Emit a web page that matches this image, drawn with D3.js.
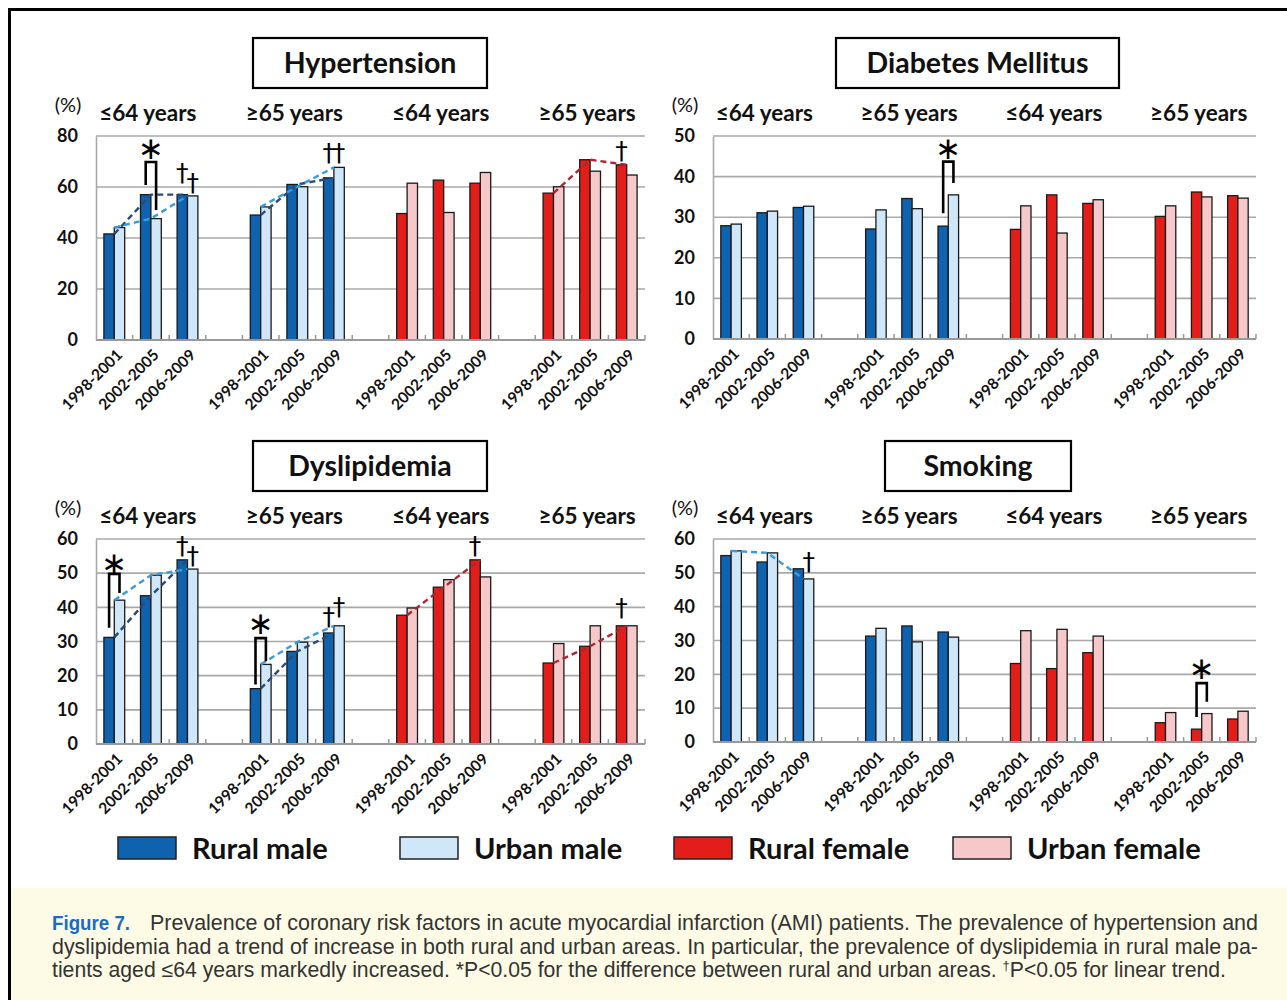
<!DOCTYPE html>
<html>
<head>
    <title>Figure 7</title>
    <script src="https://d3js.org/d3.v7.min.js"></script>
    <style>
        body { margin: 0; background: #fff; }
        svg { display: block; }
        .chart-text { font-family: Lato, "Open Sans", sans-serif; fill: #111; }
        .caption { font-family: "Liberation Sans", Arial, sans-serif; fill: #333; font-size: 21.2px; }
    </style>
</head>
<body>
<svg id="fig" width="1287" height="1000"></svg>
<script>
    // ---- data ----
    const periods = ["1998-2001", "2002-2005", "2006-2009"];
    const ageGroups = ["≤64 years", "≥65 years", "≤64 years", "≥65 years"];
    const seriesNames = ["Rural male", "Urban male", "Rural female", "Urban female"];
    const seriesColors = ["#0f62ae", "#cfe7f8", "#e31e1a", "#f6c8ca"];

    // rows: male ≤64, male ≥65, female ≤64, female ≥65 ; cols: periods
    const hypertensionRural = [[41.6, 57.0, 57.0], [49.0, 61.0, 63.6], [49.6, 62.7, 61.5], [57.6, 70.7, 68.7]];
    const hypertensionUrban = [[44.1, 47.6, 56.5], [52.2, 60.1, 67.7], [61.5, 50.0, 65.7], [60.1, 66.2, 64.7]];
    const diabetesRural = [[27.9, 31.1, 32.4], [27.1, 34.6, 27.8], [27.0, 35.5, 33.4], [30.2, 36.2, 35.3]];
    const diabetesUrban = [[28.3, 31.5, 32.7], [31.8, 32.1, 35.5], [32.8, 26.1, 34.3], [32.8, 35.0, 34.7]];
    const dyslipidemiaRural = [[31.2, 43.4, 53.9], [16.2, 27.1, 32.5], [37.7, 45.9, 53.9], [23.7, 28.6, 34.6]];
    const dyslipidemiaUrban = [[42.1, 49.4, 51.2], [23.3, 29.8, 34.6], [39.8, 48.1, 48.9], [29.4, 34.6, 34.6]];
    const smokingRural = [[55.1, 53.2, 51.2], [31.3, 34.3, 32.5], [23.2, 21.7, 26.4], [5.7, 3.8, 6.8]];
    const smokingUrban = [[56.5, 55.9, 48.2], [33.6, 29.6, 31.0], [32.9, 33.3, 31.3], [8.7, 8.4, 9.1]];

    // trend lines: [group, "rural"/"urban"]
    const hypertensionTrends = [[0, "rural"], [0, "urban"], [1, "rural"], [1, "urban"], [3, "rural"]];
    const diabetesTrends = [];
    const dyslipidemiaTrends = [[0, "rural"], [0, "urban"], [1, "rural"], [1, "urban"], [2, "rural"], [3, "rural"]];
    const smokingTrends = [[0, "urban"]];

    // daggers (linear trend): [group, period, bar, value at symbol centre]
    const hypertensionDaggers = [[0, 2, "rural", 65.8], [0, 2, "urban", 62.0], [1, 2, "rural", 73.7], [1, 2, "urban", 73.7], [3, 2, "rural", 74.5]];
    const diabetesDaggers = [];
    const dyslipidemiaDaggers = [[0, 2, "rural", 58.3], [0, 2, "urban", 55.4], [1, 2, "rural", 37.5], [1, 2, "urban", 40.3], [2, 2, "rural", 58.3], [3, 2, "rural", 40.0]];
    const smokingDaggers = [[0, 2, "urban", 53.5]];

    // rural vs urban brackets: [group, period, star, bracket top, left end, right end]
    const hypertensionStars = [[0, 1, 75.3, 69.8, 60.8, 51.0]];
    const diabetesStars = [[1, 2, 47.0, 43.7, 31.0, 38.4]];
    const dyslipidemiaStars = [[0, 0, 53.0, 49.8, 34.0, 44.2], [1, 0, 35.6, 31.0, 17.4, 24.2]];
    const smokingStars = [[3, 1, 21.8, 17.4, 7.4, 11.9]];

    const panels = [
        { title: "Hypertension", rural: hypertensionRural, urban: hypertensionUrban, trends: hypertensionTrends, daggers: hypertensionDaggers, stars: hypertensionStars,
          max: 80, step: 20, x0: 96, x1: 645, top: 136, bottom: 340, box: [253, 38, 234, 50] },
        { title: "Diabetes Mellitus", rural: diabetesRural, urban: diabetesUrban, trends: diabetesTrends, daggers: diabetesDaggers, stars: diabetesStars,
          max: 50, step: 10, x0: 713, x1: 1256, top: 136, bottom: 339, box: [836, 38, 283, 50] },
        { title: "Dyslipidemia", rural: dyslipidemiaRural, urban: dyslipidemiaUrban, trends: dyslipidemiaTrends, daggers: dyslipidemiaDaggers, stars: dyslipidemiaStars,
          max: 60, step: 10, x0: 96, x1: 645, top: 539, bottom: 744, box: [253, 441, 234, 50] },
        { title: "Smoking", rural: smokingRural, urban: smokingUrban, trends: smokingTrends, daggers: smokingDaggers, stars: smokingStars,
          max: 60, step: 10, x0: 713, x1: 1256, top: 539, bottom: 742, box: [885, 441, 186, 50] }
    ];

    const trendColors = { male: { rural: "#2b4a78", urban: "#3a9bdc" }, female: { rural: "#a9282f", urban: "#e08a90" } };

    const svg = d3.select("#fig");

    // outer frame + caption background
    svg.append("rect").attr("x", 11).attr("y", 888).attr("width", 1276).attr("height", 112).attr("fill", "#fdfbe6");
    svg.append("path").attr("d", "M9.5,1000 V9.5 H1287").attr("fill", "none").attr("stroke", "#000").attr("stroke-width", 3);

    panels.forEach(p => {
        const g = svg.append("g");
        const y = d3.scaleLinear().domain([0, p.max]).range([p.bottom, p.top]);
        const x = d3.scaleBand().domain(d3.range(15)).range([p.x0, p.x1]);
        const sub = d3.scaleBand().domain(["rural", "urban"]).range([0, x.bandwidth()]).paddingOuter(0.76);
        const cat = (grp, per) => grp * 4 + per;
        const barX = (grp, per, s) => x(cat(grp, per)) + sub(s);
        const barCx = (grp, per, s) => barX(grp, per, s) + sub.bandwidth() / 2;

        // gridlines
        const ticks = d3.range(0, p.max + 1, p.step);
        g.selectAll(".grid").data(ticks.filter(t => t > 0)).enter().append("line")
            .attr("x1", p.x0).attr("x2", p.x1)
            .attr("y1", d => y(d)).attr("y2", d => y(d))
            .attr("stroke", "#a9a9a9").attr("stroke-width", 1.6);

        // y axis labels
        const yAxis = d3.axisLeft(y).tickValues(ticks).tickSize(0).tickPadding(18);
        const ya = g.append("g").attr("transform", `translate(${p.x0},0)`).call(yAxis);
        ya.select(".domain").attr("stroke", "#a9a9a9").attr("stroke-width", 1.6);
        ya.selectAll("text").attr("class", "chart-text").style("font-size", "18px").style("font-weight", "bold").attr("fill", "#111");

        // bars
        const bars = [];
        p.rural.forEach((row, grp) => row.forEach((v, per) => bars.push({ grp, per, s: "rural", v })));
        p.urban.forEach((row, grp) => row.forEach((v, per) => bars.push({ grp, per, s: "urban", v })));
        g.selectAll(".bar").data(bars).enter().append("rect")
            .attr("x", d => barX(d.grp, d.per, d.s))
            .attr("width", sub.bandwidth())
            .attr("y", d => y(d.v))
            .attr("height", d => y(0) - y(d.v))
            .attr("fill", d => seriesColors[(d.grp >= 2 ? 2 : 0) + (d.s === "urban" ? 1 : 0)])
            .attr("stroke", "#1a1a1a").attr("stroke-width", 1.3);

        // baseline + inner ticks
        g.append("line").attr("x1", p.x0).attr("x2", p.x1).attr("y1", y(0)).attr("y2", y(0))
            .attr("stroke", "#999").attr("stroke-width", 2);
        g.selectAll(".xtick").data(d3.range(1, 16)).enter().append("line")
            .attr("x1", d => p.x0 + d * x.step()).attr("x2", d => p.x0 + d * x.step())
            .attr("y1", y(0)).attr("y2", y(0) - 5)
            .attr("stroke", "#999").attr("stroke-width", 1.5);

        // trend lines
        p.trends.forEach(([grp, s]) => {
            const vals = (s === "rural" ? p.rural : p.urban)[grp];
            const line = d3.line().x((v, per) => x(cat(grp, per)) + x.bandwidth() / 2).y(v => y(v));
            g.append("path").attr("d", line(vals)).attr("fill", "none")
                .attr("stroke", trendColors[grp >= 2 ? "female" : "male"][s])
                .attr("stroke-width", 2.4).attr("stroke-dasharray", "6,4");
        });

        // x labels
        ageGroups.forEach((a, grp) => periods.forEach((per, i) => {
            const cx = x(cat(grp, i)) + x.bandwidth() / 2;
            g.append("text").attr("class", "chart-text")
                .attr("transform", `translate(${cx + 9},${y(0) + 16}) rotate(-45)`)
                .attr("text-anchor", "end")
                .style("font-size", "15.5px").style("font-weight", "bold")
                .text(per);
        }));

        // age group headers
        ageGroups.forEach((a, grp) => {
            g.append("text").attr("class", "chart-text")
                .attr("x", x(cat(grp, 1)) + x.bandwidth() / 2 - 3)
                .attr("y", p.top - 15)
                .attr("text-anchor", "middle")
                .style("font-size", "22.5px").style("font-weight", "bold").attr("fill", "#222")
                .text(a);
        });
        g.append("text").attr("class", "chart-text")
            .attr("x", p.x0 - 28).attr("y", p.top - 24)
            .attr("text-anchor", "middle")
            .style("font-size", "20px").attr("fill", "#333")
            .text("(%)");

        // title box
        g.append("rect").attr("x", p.box[0]).attr("y", p.box[1]).attr("width", p.box[2]).attr("height", p.box[3])
            .attr("fill", "#fff").attr("stroke", "#000").attr("stroke-width", 2.2);
        g.append("text").attr("class", "chart-text")
            .attr("x", p.box[0] + p.box[2] / 2).attr("y", p.box[1] + p.box[3] / 2 + 10)
            .attr("text-anchor", "middle")
            .style("font-size", "28.5px").style("font-weight", "bold").attr("fill", "#111")
            .text(p.title);

        // daggers
        p.daggers.forEach(([grp, per, s, v]) => {
            g.append("text")
                .attr("x", barCx(grp, per, s)).attr("y", y(v))
                .attr("text-anchor", "middle").attr("dy", "0.36em")
                .style("font-family", "DejaVu Sans, sans-serif").style("font-size", "25px").attr("fill", "#000")
                .text("†");
        });

        // significance brackets
        p.stars.forEach(([grp, per, star, top, left, right]) => {
            const xl = barCx(grp, per, "rural"), xr = barCx(grp, per, "urban");
            g.append("path")
                .attr("d", `M${xl},${y(left)} V${y(top)} H${xr} V${y(right)}`)
                .attr("fill", "none").attr("stroke", "#000").attr("stroke-width", 2.6);
            g.append("text")
                .attr("x", (xl + xr) / 2).attr("y", y(star))
                .attr("text-anchor", "middle").attr("dy", "0.36em")
                .style("font-family", "DejaVu Sans, sans-serif").style("font-size", "31px").attr("fill", "#000")
                .text("∗");
        });
    });

    // legend
    const legendX = [118, 400, 674, 953];
    seriesNames.forEach((name, i) => {
        svg.append("rect").attr("x", legendX[i]).attr("y", 837).attr("width", 58).attr("height", 22)
            .attr("fill", seriesColors[i]).attr("stroke", "#222").attr("stroke-width", 1.5);
        svg.append("text").attr("class", "chart-text")
            .attr("x", legendX[i] + 74).attr("y", 859)
            .style("font-size", "29px").style("font-weight", "bold").attr("fill", "#222")
            .text(name);
    });

    // caption
    const cap = svg.append("g").attr("class", "caption");
    cap.append("text").attr("x", 52).attr("y", 930)
        .style("font-family", "'Liberation Sans Narrow', 'Arial Narrow', sans-serif")
        .style("font-weight", "bold").style("font-size", "21px").attr("fill", "#1a6cc0")
        .attr("textLength", 78).attr("lengthAdjust", "spacingAndGlyphs")
        .text("Figure 7.");
    cap.append("text").attr("x", 150).attr("y", 930)
        .attr("textLength", 1108).attr("lengthAdjust", "spacingAndGlyphs")
        .text("Prevalence of coronary risk factors in acute myocardial infarction (AMI) patients. The prevalence of hypertension and");
    cap.append("text").attr("x", 52).attr("y", 954)
        .attr("textLength", 1206).attr("lengthAdjust", "spacingAndGlyphs")
        .text("dyslipidemia had a trend of increase in both rural and urban areas. In particular, the prevalence of dyslipidemia in rural male pa-");
    const l3 = cap.append("text").attr("x", 52).attr("y", 977);
    l3.append("tspan").text("tients aged ≤64 years markedly increased. *P<0.05 for the difference between rural and urban areas. ");
    l3.append("tspan").attr("dy", -7).style("font-size", "13px").text("†");
    l3.append("tspan").attr("dy", 7).text("P<0.05 for linear trend.");
</script>
</body>
</html>
